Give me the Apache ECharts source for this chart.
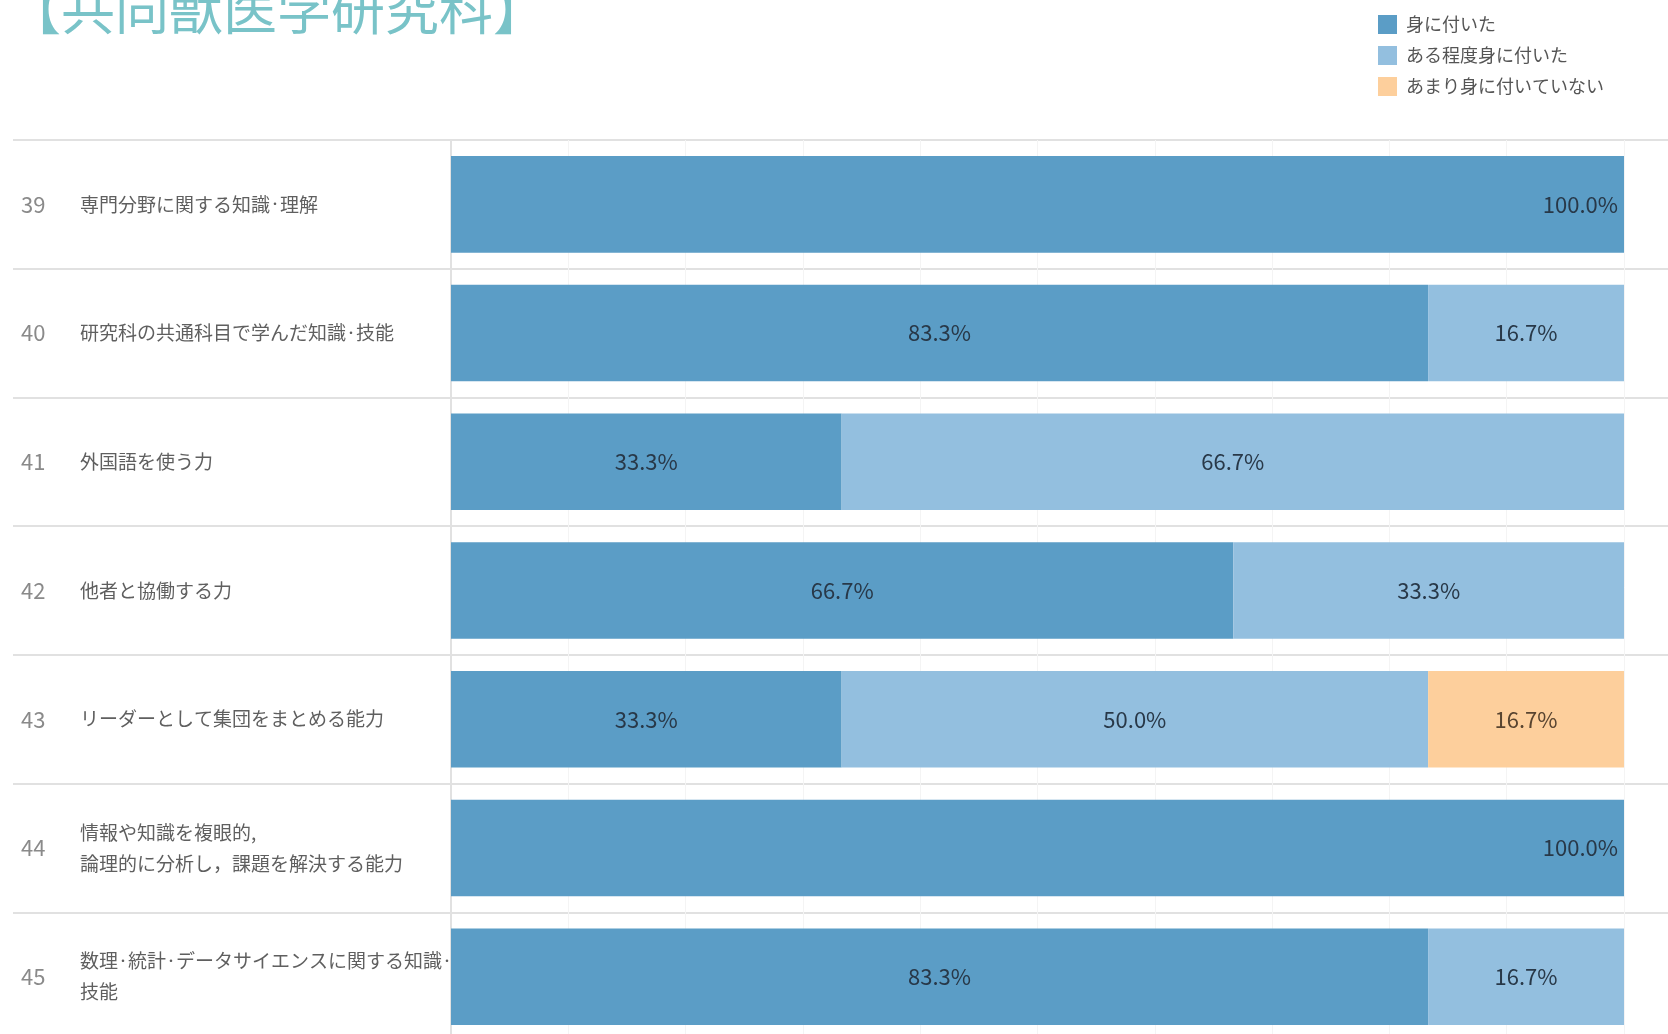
<!DOCTYPE html>
<html>
<head>
<meta charset="utf-8">
<script src="https://cdn.jsdelivr.net/npm/echarts@6/dist/echarts.min.js"></script>
<style>
html,body{margin:0;padding:0;background:#fff;}
#chart{width:1668px;height:1034px;}
</style>
</head>
<body>
<div id="chart"></div>
<script>
const titleText = '【共同獣医学研究科】';
const itemNumbers = ['39', '40', '41', '42', '43', '44', '45'];
const itemNames = [
  '専門分野に関する知識・理解',
  '研究科の共通科目で学んだ知識・技能',
  '外国語を使う力',
  '他者と協働する力',
  'リーダーとして集団をまとめる能力',
  '情報や知識を複眼的,\n論理的に分析し，課題を解決する能力',
  '数理・統計・データサイエンスに関する知識・\n技能'
];
const seriesNames = ['身に付いた', 'ある程度身に付いた', 'あまり身に付いていない'];
const acquired = [100.0, 83.3, 33.3, 66.7, 33.3, 100.0, 83.3];
const somewhat = [null, 16.7, 66.7, 33.3, 50.0, null, 16.7];
const notMuch = [null, null, null, null, 16.7, null, null];
const seriesValues = [acquired, somewhat, notMuch];
const seriesColors = ['#5b9dc6', '#93bfdf', '#fdcf9c'];
const labelColors = ['#283848', '#283848', '#584430'];

const FONT = '"Noto Sans CJK JP", "Noto Sans", sans-serif';
const LINE = '#e1e1e1';

const chart = echarts.init(document.getElementById('chart'), null, {renderer: 'canvas'});

const series = seriesNames.map((name, i) => ({
  name: name,
  type: 'bar',
  stack: 'total',
  barWidth: '75%',
  yAxisIndex: 0,
  itemStyle: {color: seriesColors[i]},
  data: seriesValues[i].map(v => ({
    value: v,
    label: {position: v === 100 ? 'insideRight' : 'inside', distance: 6}
  })),
  label: {
    show: true,
    color: labelColors[i],
    fontFamily: FONT,
    fontSize: 22,
    formatter: p => (p.value == null ? '' : p.value.toFixed(1) + '%')
  },
  emphasis: {disabled: true}
}));

chart.setOption({
  animation: false,
  backgroundColor: '#ffffff',
  textStyle: {fontFamily: FONT},
  title: {
    text: titleText,
    left: 2,
    top: -23,
    textStyle: {color: '#79c3c8', fontSize: 54, fontWeight: 'normal', fontFamily: FONT}
  },
  legend: {
    orient: 'vertical',
    left: 1373,
    top: 10,
    itemWidth: 19,
    itemHeight: 19,
    itemGap: 12,
    icon: 'rect',
    data: seriesNames,
    textStyle: {color: '#555', fontSize: 18, fontFamily: FONT, padding: [0, 0, 0, 4]}
  },
  grid: {
    left: 451,
    top: 140,
    right: 0,
    height: 901,
    containLabel: false,
    outerBoundsMode: 'none'
  },
  xAxis: {
    type: 'value',
    min: 0,
    max: 103.75,
    interval: 10,
    axisLabel: {show: false},
    axisLine: {show: false},
    axisTick: {show: false},
    splitLine: {show: true, lineStyle: {color: '#f4f4f4', width: 1}}
  },
  yAxis: [
    {
      type: 'category',
      inverse: true,
      data: itemNames,
      axisLine: {show: true, lineStyle: {color: LINE, width: 2}},
      axisTick: {show: true, length: 438, interval: 0, lineStyle: {color: LINE, width: 2}},
      splitLine: {show: true, interval: 0, lineStyle: {color: LINE, width: 2}},
      axisLabel: {
        align: 'left',
        margin: 371,
        color: '#5f5f5f',
        fontSize: 19,
        lineHeight: 31,
        fontFamily: FONT,
        interval: 0,
        formatter: v => v.split('・').join('{d|・}'),
        rich: {
          d: {fontSize: 10, fontWeight: 'bold', lineHeight: 31, color: '#5f5f5f', fontFamily: FONT}
        }
      }
    },
    {
      type: 'category',
      inverse: true,
      position: 'left',
      data: itemNumbers,
      axisLine: {show: false},
      axisTick: {show: false},
      splitLine: {show: false},
      axisLabel: {
        align: 'left',
        margin: 430,
        color: '#8a8a8a',
        fontSize: 22,
        fontFamily: FONT,
        interval: 0
      }
    }
  ],
  series: series
});
</script>
</body>
</html>
